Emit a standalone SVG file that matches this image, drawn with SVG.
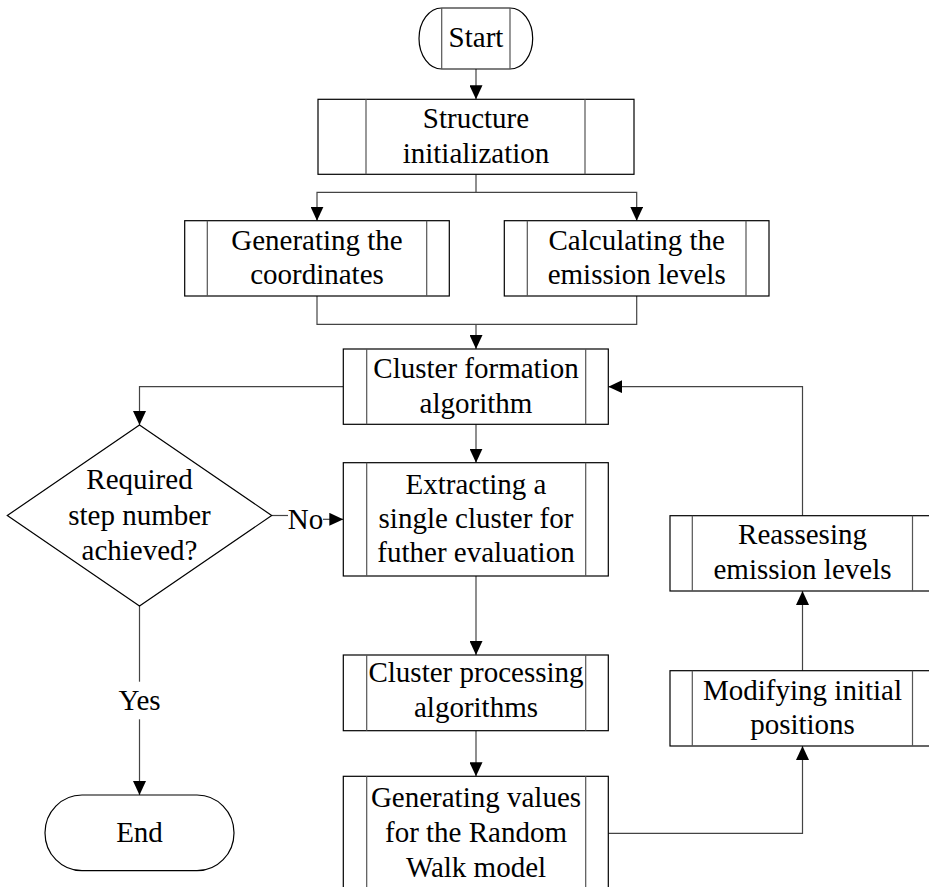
<svg xmlns="http://www.w3.org/2000/svg" width="929" height="887" viewBox="0 0 929 887" font-family="Liberation Serif" font-size="29">
<defs>
<marker id="arr" markerUnits="userSpaceOnUse" markerWidth="14" markerHeight="13" refX="14" refY="6.5" orient="auto">
<path d="M0,0 L14,6.5 L0,13 Z" fill="#000"/>
</marker>
<style>
.box{fill:#fff;stroke:#000;stroke-width:1.2}
.inner{stroke:#555;stroke-width:1.2;fill:none}
.con{fill:none;stroke:#444;stroke-width:1.2}
.arrow{marker-end:url(#arr)}
.t{fill:#000;text-anchor:middle;font-family:'Liberation Serif',serif;font-size:29px}
</style>
</defs>
<rect width="929" height="887" fill="#fff"/>
<g id="connectors">
<path class="con arrow" d="M476,69 V99.3"/>
<path class="con arrow" d="M476,174.3 V192.3 H317 V220.7"/>
<path class="con arrow" d="M476,192.3 H636.7 V220.7"/>
<path class="con" d="M317,296 V324.3 H636.7 V296"/>
<path class="con arrow" d="M476,324.3 V349"/>
<path class="con arrow" d="M343.3,386.7 H139.5 V425"/>
<path class="con arrow" d="M476,424.3 V462.7"/>
<path class="con" d="M271.7,515.5 H288"/>
<path class="con arrow" d="M323,519.3 H343.3"/>
<text class="t" x="305.5" y="528.5" font-family="Liberation Serif">No</text>
<path class="con arrow" d="M476,576 V655"/>
<path class="con arrow" d="M476,730.7 V776.3"/>
<path class="con arrow" d="M608.3,833.3 H802.5 V746"/>
<path class="con arrow" d="M802.5,670.7 V591"/>
<path class="con arrow" d="M802.5,515.7 V386.7 H608.3"/>
<path class="con" d="M139.5,606 V681.7"/>
<path class="con arrow" d="M139.5,719.3 V795"/>
<text class="t" x="139.5" y="710" font-family="Liberation Serif">Yes</text>
</g>
<g id="start">
<path class="box" d="M441.7,8 L510,8 A22.7,30.5 0 0 1 510,69 L441.7,69 A22.7,30.5 0 0 1 441.7,8 Z"/>
<path class="inner" d="M441.7,8 V69 M510,8 V69"/>
<text class="t" x="476" y="47" font-family="Liberation Serif">Start</text>
</g>
<g id="structure">
<rect class="box" x="318" y="99.3" width="316" height="75"/>
<path class="inner" d="M366,99.3 V174.3 M585,99.3 V174.3"/>
<text class="t" x="476" y="128" font-family="Liberation Serif">Structure</text>
<text class="t" x="476" y="162.5" font-family="Liberation Serif">initialization</text>
</g>
<g id="gen-coords">
<rect class="box" x="184.7" y="220.7" width="264.6" height="75.3"/>
<path class="inner" d="M207.3,220.7 V296 M426.7,220.7 V296"/>
<text class="t" x="317" y="249.5" font-family="Liberation Serif">Generating the</text>
<text class="t" x="317" y="284" font-family="Liberation Serif">coordinates</text>
</g>
<g id="calc-emission">
<rect class="box" x="504.3" y="220.7" width="264.7" height="75.3"/>
<path class="inner" d="M527.3,220.7 V296 M746,220.7 V296"/>
<text class="t" x="636.7" y="249.5" font-family="Liberation Serif">Calculating the</text>
<text class="t" x="636.7" y="284" font-family="Liberation Serif">emission levels</text>
</g>
<g id="cluster-formation">
<rect class="box" x="343.3" y="349" width="265" height="75.3"/>
<path class="inner" d="M366.7,349 V424.3 M585.7,349 V424.3"/>
<text class="t" x="476" y="378" font-family="Liberation Serif">Cluster formation</text>
<text class="t" x="476" y="412.5" font-family="Liberation Serif">algorithm</text>
</g>
<g id="decision">
<polygon class="box" points="139.5,425 271.7,515.5 139.5,606 7.3,515.5"/>
<text class="t" x="139.5" y="488.5" font-family="Liberation Serif">Required</text>
<text class="t" x="139.5" y="524.5" font-family="Liberation Serif">step number</text>
<text class="t" x="139.5" y="560" font-family="Liberation Serif">achieved?</text>
</g>
<g id="extracting">
<rect class="box" x="343.3" y="462.7" width="265" height="113.3"/>
<path class="inner" d="M366.7,462.7 V576 M585.7,462.7 V576"/>
<text class="t" x="476" y="493.5" font-family="Liberation Serif">Extracting a</text>
<text class="t" x="476" y="528" font-family="Liberation Serif">single cluster for</text>
<text class="t" x="476" y="562" font-family="Liberation Serif">futher evaluation</text>
</g>
<g id="cluster-processing">
<rect class="box" x="343.3" y="655" width="265" height="75.7"/>
<path class="inner" d="M366.7,655 V730.7 M585.7,655 V730.7"/>
<text class="t" x="476" y="682" font-family="Liberation Serif">Cluster processing</text>
<text class="t" x="476" y="716.5" font-family="Liberation Serif">algorithms</text>
</g>
<g id="gen-values">
<rect class="box" x="343.3" y="776.3" width="265" height="113"/>
<path class="inner" d="M366.7,776.3 V889.3 M585.7,776.3 V889.3"/>
<text class="t" x="476" y="806.7" font-family="Liberation Serif">Generating values</text>
<text class="t" x="476" y="841.5" font-family="Liberation Serif">for the Random</text>
<text class="t" x="476" y="876.5" font-family="Liberation Serif">Walk model</text>
</g>
<g id="reassessing">
<rect class="box" x="670" y="515.7" width="265" height="75.3"/>
<path class="inner" d="M692.3,515.7 V591 M912.5,515.7 V591"/>
<text class="t" x="802.5" y="544" font-family="Liberation Serif">Reassesing</text>
<text class="t" x="802.5" y="578.5" font-family="Liberation Serif">emission levels</text>
</g>
<g id="modifying">
<rect class="box" x="670" y="670.7" width="265" height="75.3"/>
<path class="inner" d="M692.3,670.7 V746 M912.5,670.7 V746"/>
<text class="t" x="802.5" y="699.5" font-family="Liberation Serif">Modifying initial</text>
<text class="t" x="802.5" y="734" font-family="Liberation Serif">positions</text>
</g>
<g id="end">
<rect class="box" x="45" y="795" width="189" height="75.7" rx="37" ry="37.8"/>
<text class="t" x="139.5" y="842" font-family="Liberation Serif">End</text>
</g>
</svg>
